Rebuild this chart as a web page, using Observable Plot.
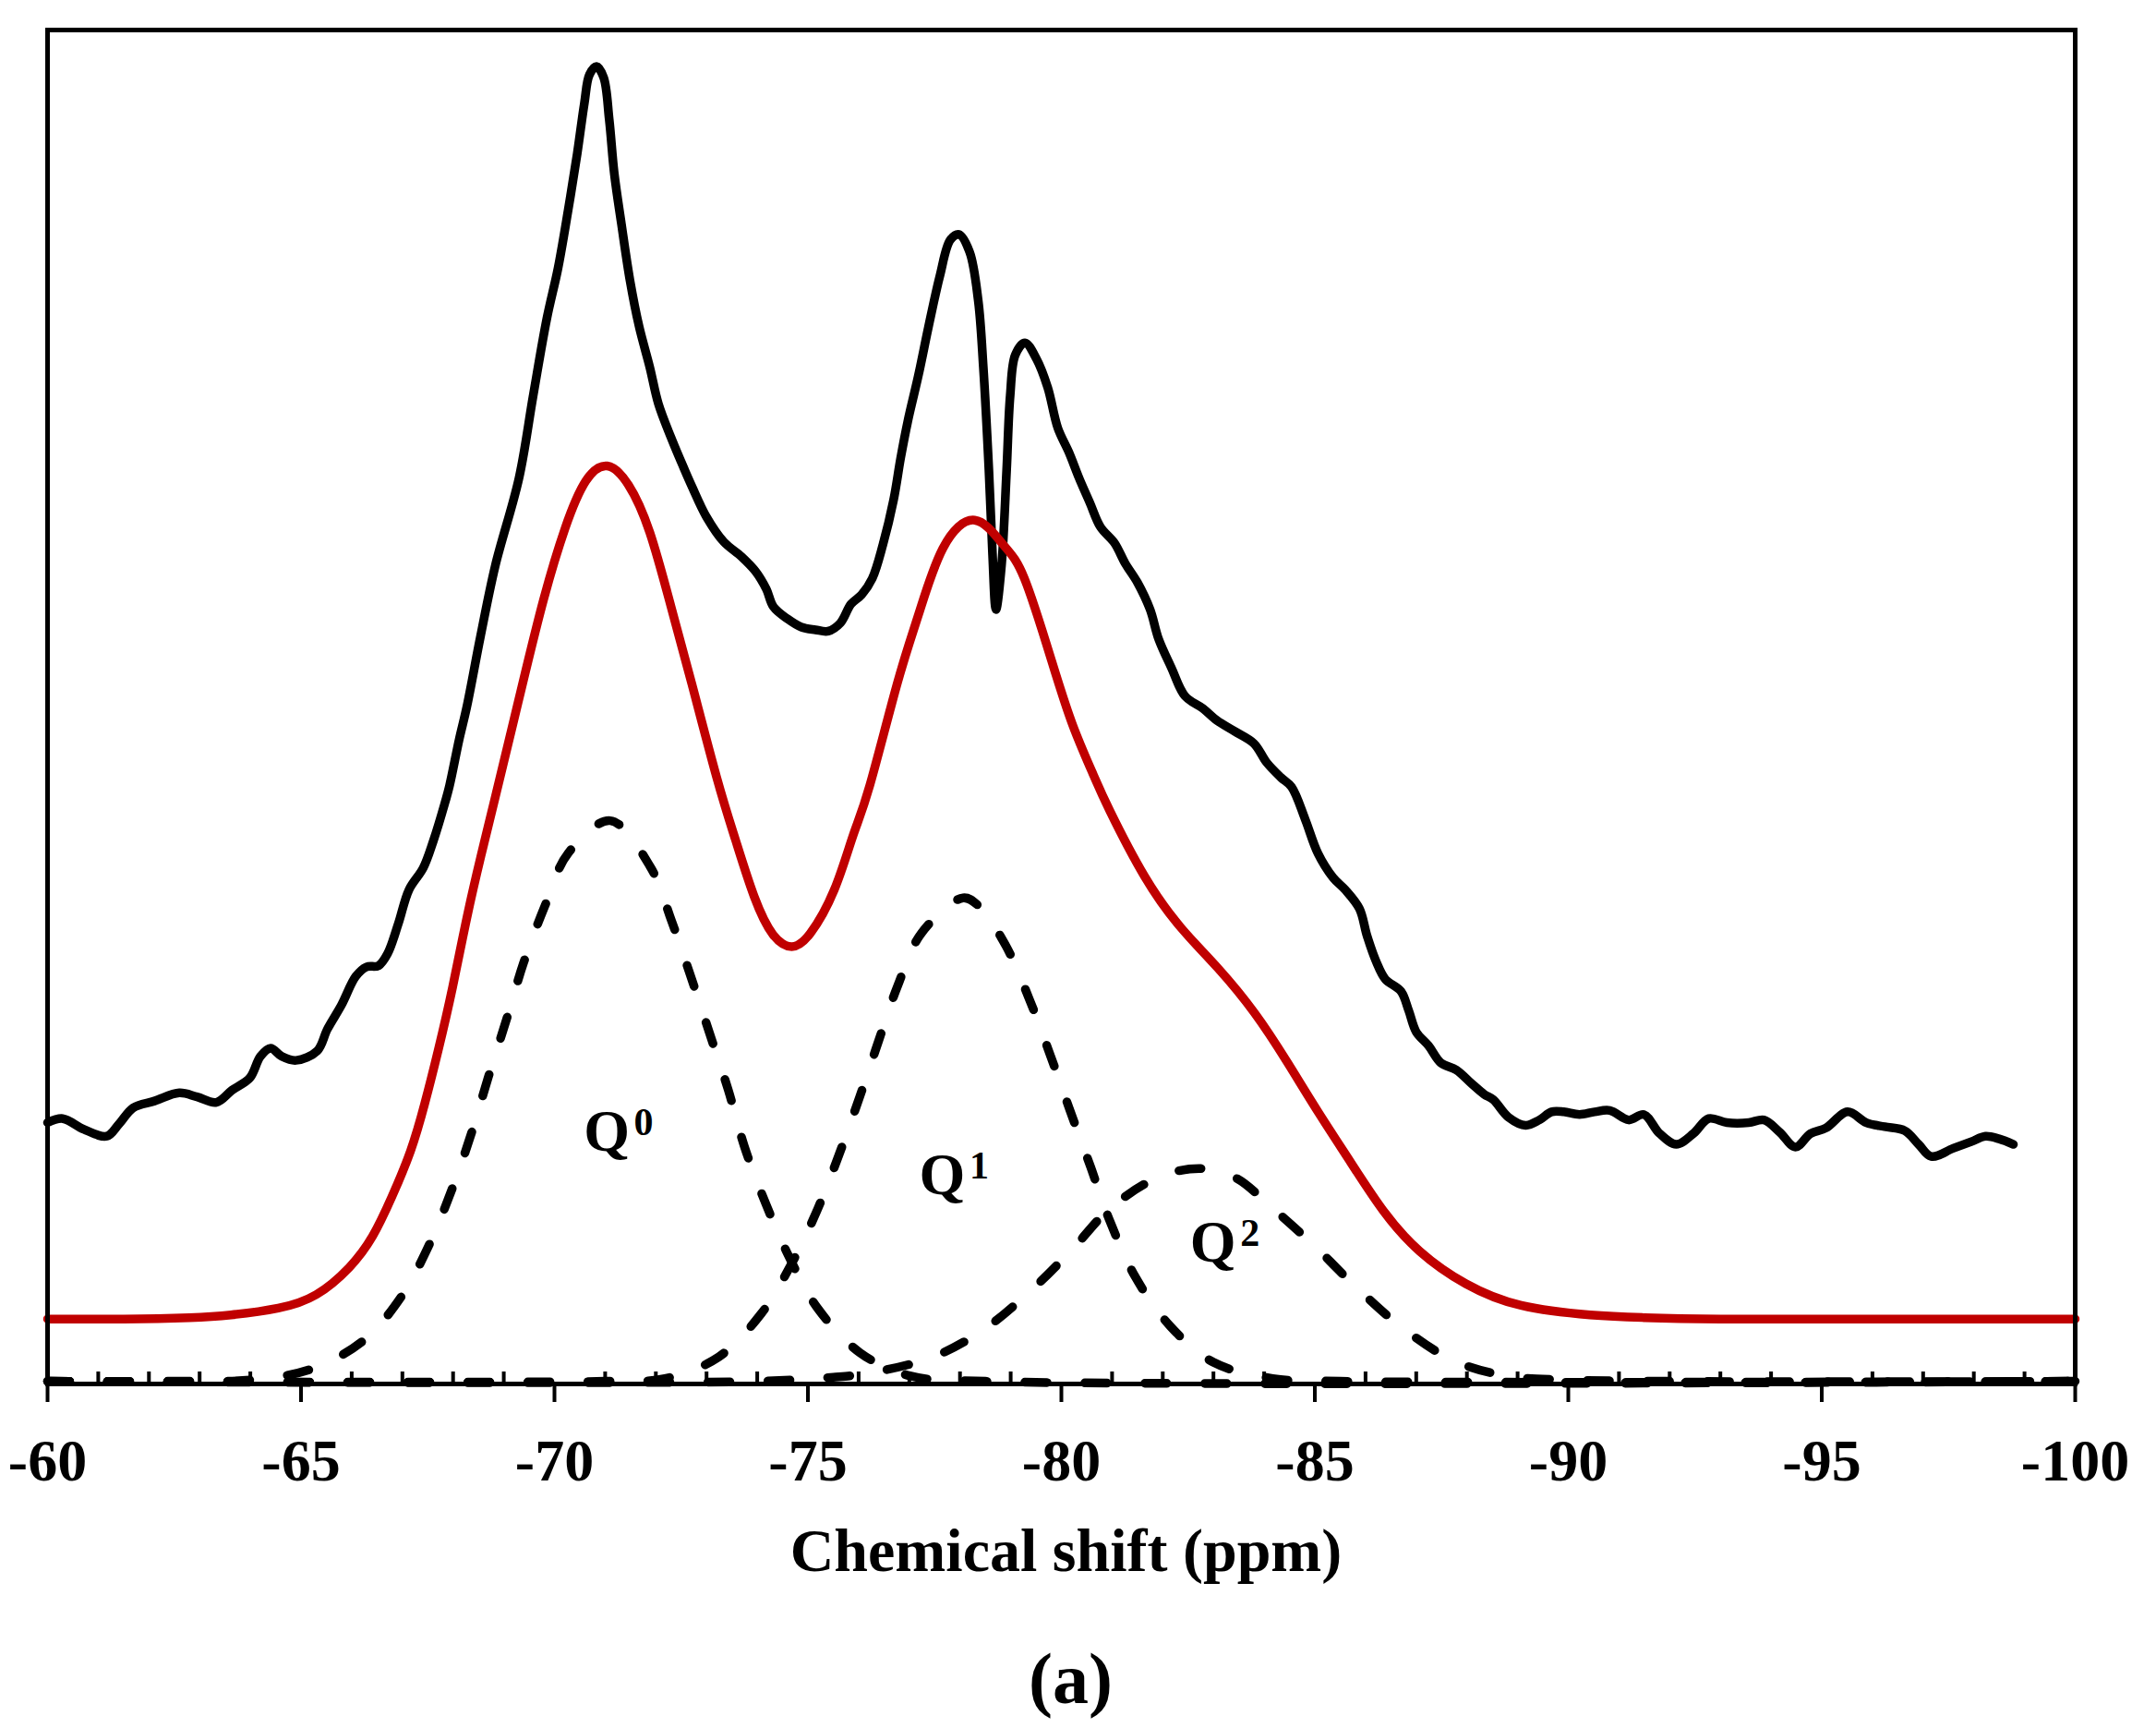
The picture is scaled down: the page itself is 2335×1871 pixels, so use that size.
<!DOCTYPE html>
<html>
<head>
<meta charset="utf-8">
<script src="https://cdn.jsdelivr.net/npm/d3@7"></script>
<script src="https://cdn.jsdelivr.net/npm/@observablehq/plot@0.6"></script>
<style>
  body { margin: 0; background: #fff; }
</style>
</head>
<body>
<div id="chart"></div>
<script>
// measured spectrum, [chemical shift (ppm), intensity]
const measured = [
  [-60.00, 19.3], [-60.30, 19.6], [-60.72, 18.8], [-61.17, 18.3], [-61.41, 19.2],
  [-61.69, 20.4], [-62.11, 20.9], [-62.60, 21.5], [-62.95, 21.2], [-63.33, 20.8],
  [-63.64, 21.7], [-63.99, 22.6], [-64.20, 24.2], [-64.40, 24.8], [-64.62, 24.2],
  [-64.90, 23.9], [-65.32, 24.6], [-65.52, 26.2], [-65.80, 28.0], [-66.08, 30.1],
  [-66.29, 30.8], [-66.53, 30.9], [-66.71, 31.8], [-66.92, 34.0], [-67.13, 36.5],
  [-67.41, 38.1], [-67.61, 40.1], [-67.83, 42.8], [-67.93, 44.2], [-68.12, 47.6],
  [-68.27, 50.0], [-68.54, 55.2], [-68.83, 60.4], [-69.30, 66.9], [-69.58, 73.0],
  [-69.85, 78.7], [-70.07, 82.4], [-70.27, 86.7], [-70.45, 90.9], [-70.59, 94.6],
  [-70.69, 96.7], [-70.83, 97.3], [-70.97, 96.5], [-71.08, 93.4], [-71.18, 89.4],
  [-71.32, 85.7], [-71.49, 81.5], [-71.67, 78.1], [-71.88, 75.1], [-72.05, 72.4],
  [-72.30, 69.9], [-72.50, 68.1], [-72.71, 66.3], [-72.99, 64.1], [-73.34, 62.2],
  [-73.69, 61.1], [-73.97, 60.0], [-74.18, 58.7], [-74.32, 57.4], [-74.60, 56.5],
  [-74.87, 55.9], [-75.15, 55.7], [-75.40, 55.6], [-75.64, 56.2], [-75.85, 57.6],
  [-76.06, 58.3], [-76.27, 59.5], [-76.48, 62.0], [-76.69, 65.3], [-76.83, 68.4],
  [-76.97, 71.1], [-77.18, 74.5], [-77.38, 78.1], [-77.60, 81.8], [-77.81, 84.5],
  [-77.98, 84.9], [-78.19, 83.6], [-78.36, 80.0], [-78.46, 75.1], [-78.57, 67.5],
  [-78.64, 61.4], [-78.71, 57.2], [-78.82, 60.5], [-78.92, 67.5], [-78.99, 73.0],
  [-79.09, 76.0], [-79.28, 76.9], [-79.51, 75.7], [-79.73, 73.6], [-79.93, 70.6],
  [-80.15, 68.8], [-80.35, 66.9], [-80.56, 65.1], [-80.77, 63.3], [-81.05, 62.1],
  [-81.26, 60.6], [-81.50, 59.2], [-81.75, 57.2], [-81.92, 55.0], [-82.17, 52.9],
  [-82.44, 50.8], [-82.79, 49.9], [-83.07, 49.0], [-83.42, 48.2], [-83.80, 47.3],
  [-84.05, 45.9], [-84.33, 44.8], [-84.54, 44.1], [-84.81, 41.7], [-85.06, 39.2],
  [-85.36, 37.4], [-85.60, 36.5], [-85.88, 35.1], [-86.03, 33.1], [-86.21, 31.2],
  [-86.39, 29.9], [-86.70, 29.0], [-86.85, 27.6], [-87.00, 26.0], [-87.24, 25.0],
  [-87.49, 23.7], [-87.79, 23.2], [-88.09, 22.2], [-88.34, 21.4], [-88.52, 21.0],
  [-88.82, 19.7], [-89.16, 19.1], [-89.43, 19.5], [-89.67, 20.1], [-89.91, 20.1],
  [-90.22, 19.9], [-90.52, 20.1], [-90.82, 20.2], [-91.19, 19.5], [-91.49, 19.9],
  [-91.80, 18.5], [-92.13, 17.7], [-92.47, 18.5], [-92.77, 19.6], [-93.13, 19.3],
  [-93.56, 19.3], [-93.86, 19.5], [-94.17, 18.6], [-94.48, 17.5], [-94.78, 18.5],
  [-95.08, 18.9], [-95.51, 20.1], [-95.88, 19.3], [-96.24, 19.0], [-96.64, 18.7],
  [-96.91, 17.7], [-97.16, 16.8], [-97.59, 17.4], [-97.95, 17.9], [-98.23, 18.3],
  [-98.50, 18.1], [-98.78, 17.7]
];

// fitted envelope (red)
const fitted = [
  [-60.00, 4.8], [-61.50, 4.8], [-62.80, 4.9], [-63.62, 5.1], [-64.55, 5.6],
  [-65.30, 6.6], [-65.95, 8.6], [-66.41, 10.9], [-66.79, 13.8], [-67.16, 17.2],
  [-67.44, 20.7], [-67.71, 24.7], [-67.99, 29.3], [-68.27, 34.4], [-68.55, 39.0],
  [-68.83, 43.3], [-69.37, 51.7], [-69.79, 58.0], [-70.21, 63.2], [-70.62, 66.7],
  [-71.04, 67.8], [-71.46, 66.4], [-71.88, 62.9], [-72.30, 57.4], [-72.71, 51.7],
  [-73.20, 44.8], [-73.57, 40.2], [-73.94, 36.0], [-74.31, 33.2], [-74.68, 32.3],
  [-75.05, 33.3], [-75.52, 36.5], [-75.89, 40.5], [-76.22, 44.2], [-76.76, 51.7],
  [-77.18, 56.8], [-77.66, 61.7], [-78.29, 63.8], [-78.85, 62.0], [-79.27, 59.5],
  [-79.80, 53.5], [-80.22, 48.7], [-80.63, 45.0], [-80.96, 42.3], [-81.64, 37.5],
  [-82.36, 33.7], [-83.09, 30.7], [-83.81, 27.4], [-84.45, 23.8], [-85.08, 20.0],
  [-85.72, 16.3], [-86.35, 12.8], [-87.07, 9.8], [-87.98, 7.4], [-89.07, 5.8],
  [-90.43, 5.1], [-91.49, 4.9], [-93.00, 4.8], [-96.50, 4.8], [-100.00, 4.8]
];

// deconvoluted components (dashed)
const q0 = [
  [-60.00, 0.2], [-62.50, 0.2], [-64.00, 0.3], [-65.20, 1.1], [-66.23, 3.2],
  [-66.97, 6.4], [-67.53, 10.3], [-67.99, 14.5], [-68.36, 18.5], [-68.69, 22.6],
  [-69.06, 27.0], [-69.39, 31.1], [-69.81, 35.3], [-70.27, 39.2], [-71.10, 41.6],
  [-71.89, 38.2], [-72.31, 34.2], [-72.68, 30.2], [-73.06, 25.9], [-73.43, 21.7],
  [-73.75, 17.5], [-74.17, 13.3], [-74.64, 9.3], [-75.19, 5.6], [-76.03, 2.3],
  [-77.01, 0.6], [-78.50, 0.2], [-100.00, 0.2]
];
const q1 = [
  [-60.00, 0.2], [-71.00, 0.2], [-72.18, 0.4], [-73.24, 2.0], [-74.08, 5.2],
  [-74.68, 8.9], [-75.19, 12.9], [-75.61, 16.9], [-76.03, 21.3], [-76.40, 25.4],
  [-76.77, 29.4], [-77.24, 33.3], [-78.06, 35.9], [-78.37, 35.3], [-78.90, 32.4],
  [-79.37, 28.4], [-79.78, 24.3], [-80.17, 20.2], [-80.57, 16.1], [-80.96, 12.0],
  [-81.46, 7.9], [-82.14, 4.3], [-83.00, 1.6], [-84.17, 0.4], [-85.50, 0.2],
  [-100.00, 0.2]
];
const q2 = [
  [-60.00, 0.2], [-74.00, 0.2], [-75.50, 0.5], [-76.20, 0.8], [-77.47, 2.0],
  [-78.46, 4.0], [-79.37, 6.8], [-80.18, 9.8], [-81.00, 13.1], [-82.00, 15.4],
  [-82.81, 15.9], [-83.45, 15.2], [-84.13, 13.1], [-84.99, 10.2], [-85.80, 7.2],
  [-86.71, 4.2], [-87.75, 1.7], [-88.79, 0.6], [-90.00, 0.3], [-100.00, 0.2]
];

const labelShift = [-71.03, -77.65, -82.99];
const labelHeight = [18.6, 15.4, 10.45];
const labelSup = ["0", "1", "2"];

const majorTicks = d3.range(-60, -101, -5);
const minorTicks = d3.range(-61, -100, -1).filter((d) => d % 5 !== 0);

const font = "'Liberation Serif', 'Times New Roman', serif";
const labels = labelShift.map((shift, i) => ({ shift, value: labelHeight[i], sup: labelSup[i] }));

const dashed = {
  x: (d) => d[0],
  y: (d) => d[1],
  stroke: "black",
  strokeWidth: 9.5,
  strokeDasharray: "24,41",
  strokeLinecap: "round",
  curve: "catmull-rom"
};

const chart = Plot.plot({
  width: 2335,
  height: 1871,
  marginLeft: 51,
  marginRight: 88,
  marginTop: 32,
  marginBottom: 373,
  style: { fontFamily: font, fontWeight: "bold", background: "white", color: "black" },
  x: { domain: [-60, -100] },
  y: { domain: [0, 100], axis: null },
  marks: [
    Plot.line(q0, dashed),
    Plot.line(q1, dashed),
    Plot.line(q2, dashed),
    Plot.line(measured, {
      x: (d) => d[0], y: (d) => d[1],
      stroke: "black", strokeWidth: 9.5, strokeLinejoin: "round", curve: "catmull-rom"
    }),
    Plot.line(fitted, {
      x: (d) => d[0], y: (d) => d[1],
      stroke: "#c00000", strokeWidth: 9.5, curve: "natural"
    }),
    Plot.text(labels, {
      x: "shift", y: "value", text: () => "Q",
      fontSize: 64, fontFamily: font, fontWeight: "bold", lineAnchor: "middle"
    }),
    Plot.text(labels, {
      x: "shift", y: "value", text: "sup",
      fontSize: 42, fontFamily: font, fontWeight: "bold", lineAnchor: "middle", dx: 40, dy: -10
    }),
    // minor ticks point inwards, major ones outwards
    Plot.ruleX(minorTicks, { x: (d) => d, insetTop: 1453, stroke: "black", strokeWidth: 4 }),
    Plot.axisX(majorTicks, {
      tickSize: 20, tickPadding: 39, strokeWidth: 4,
      tickFormat: (d) => String(d),
      fontSize: 64, fontFamily: font, fontWeight: "bold", label: null
    }),
    Plot.frame({ stroke: "black", strokeWidth: 5 }),
    Plot.text(["Chemical shift (ppm)"], {
      text: (d) => d, frameAnchor: "bottom", lineAnchor: "bottom", dy: 202, dx: 5,
      fontSize: 66, fontFamily: font, fontWeight: "bold"
    }),
    Plot.text(["(a)"], {
      text: (d) => d, frameAnchor: "bottom", lineAnchor: "bottom", dy: 345, dx: 10,
      fontSize: 78, fontFamily: font, fontWeight: "bold"
    })
  ]
});

document.getElementById("chart").appendChild(chart);
</script>
</body>
</html>
